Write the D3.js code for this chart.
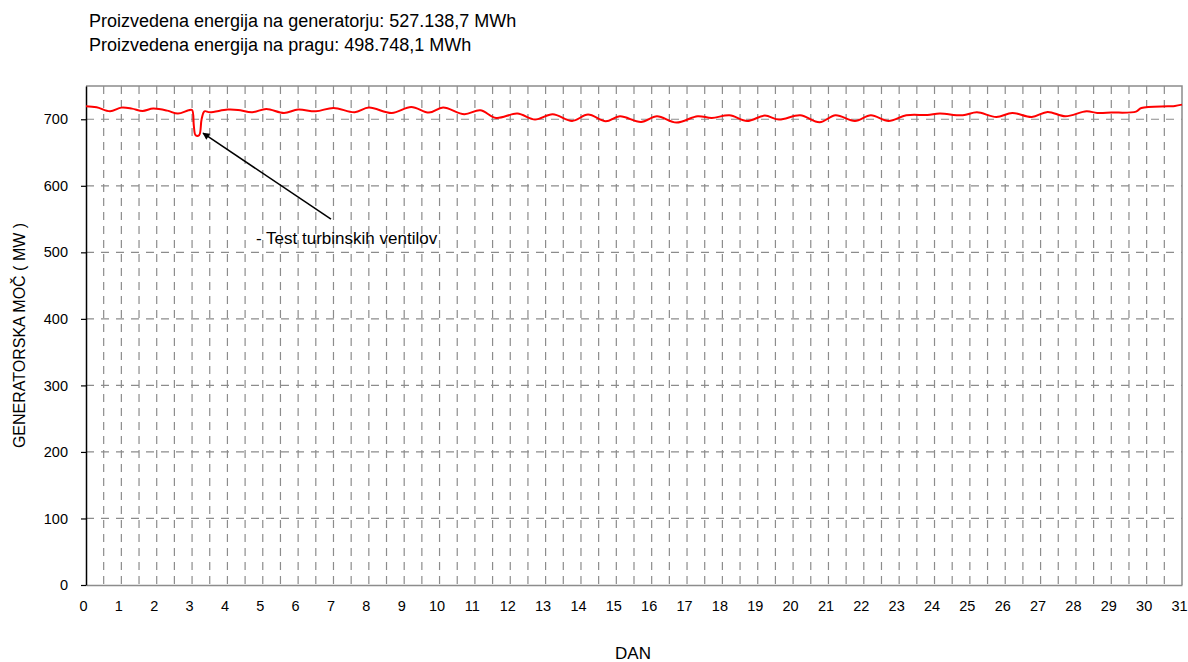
<!DOCTYPE html>
<html lang="sl">
<head>
<meta charset="UTF-8">
<title>Generatorska moc</title>
<script src="https://d3js.org/d3.v7.min.js"></script>
<style>
  body { margin: 0; background: #fff; }
  svg text { font-family: "Liberation Sans", Arial, sans-serif; fill: #000; }
</style>
</head>
<body>
<svg id="chart" width="1188" height="662"></svg>
<script>
// values: day of month and generator power (MW)
var days = [0, 0.3, 0.68, 1, 1.3, 1.6, 1.9, 2.3, 2.6, 2.9, 3.0, 3.05, 3.1, 3.2, 3.27, 3.35, 3.5,
  4, 4.3, 4.7, 5.1, 5.6, 6, 6.5, 7, 7.6, 8, 8.65, 9.2, 9.7, 10.1, 10.7, 11.15, 11.6,
  12.2, 12.7, 13.2, 13.75, 14.2, 14.7, 15.1, 15.7, 16.15, 16.7, 17.3, 17.7, 18.2, 18.7,
  19.2, 19.6, 20.2, 20.75, 21.2, 21.75, 22.2, 22.7, 23.2, 23.8, 24.15, 24.8, 25.2, 25.75,
  26.2, 26.75, 27.2, 27.7, 28.3, 28.6, 29, 29.7, 29.85, 30.6, 30.8, 31];
var power = [719.5, 718, 712, 717.5, 716, 712.5, 716, 713, 708.5, 713.5, 714, 690, 676, 676, 700, 712, 710.5,
  714.5, 714, 710.5, 715.5, 709.5, 714.5, 712, 717, 710.5, 717.5, 709.5, 718.5, 710, 717.5, 707.5, 713.5, 702,
  708.5, 699.5, 707.5, 697.5, 707, 697, 704.5, 696, 704.5, 695, 704.5, 702, 706, 697.5,
  705.5, 699.5, 706, 695.5, 706, 697.5, 706, 697.5, 706, 706.5, 708.5, 706, 710.5, 703.5,
  709.5, 703.5, 711, 704.5, 712, 709.5, 710, 711.5, 717, 719.5, 720, 722];

var dayTicks = d3.range(0, 32);
var powerTicks = [0, 100, 200, 300, 400, 500, 600, 700];
var header = ["Proizvedena energija na generatorju: 527.138,7 MWh",
              "Proizvedena energija na pragu: 498.748,1 MWh"];
var note = "- Test turbinskih ventilov";

var svg = d3.select("#chart");
var margin = {left: 86, top: 86, right: 6, bottom: 77};
var w = 1188 - margin.left - margin.right,
    h = 662 - margin.top - margin.bottom;

var x = d3.scaleLinear().domain([0, 31]).range([0, w]);
var y = d3.scaleLinear().domain([0, 750]).range([h, 0]);

// header lines
svg.selectAll(".hdr").data(header).enter().append("text")
    .attr("class", "hdr")
    .attr("x", 89)
    .attr("y", function(d, i) { return 27 + i * 24; })
    .attr("font-size", 18)
    .text(function(d) { return d; });

var g = svg.append("g").attr("transform", "translate(" + margin.left + "," + margin.top + ")");

// grid
g.append("g").selectAll("line")
    .data(d3.range(1, 62).map(function(i) { return i / 2; }))
    .enter().append("line")
    .attr("x1", function(d) { return x(d); })
    .attr("x2", function(d) { return x(d); })
    .attr("y1", 0).attr("y2", h)
    .attr("stroke", "#8c8c8c")
    .attr("stroke-width", 1.2)
    .attr("stroke-dasharray", "8,6");

g.append("g").selectAll("line")
    .data(powerTicks.slice(1))
    .enter().append("line")
    .attr("x1", 0).attr("x2", w)
    .attr("y1", function(d) { return y(d); })
    .attr("y2", function(d) { return y(d); })
    .attr("stroke", "#8c8c8c")
    .attr("stroke-width", 1.2)
    .attr("stroke-dasharray", "8,7");

// frame top / right
g.append("path")
    .attr("d", "M0,0H" + w + "V" + h)
    .attr("fill", "none")
    .attr("stroke", "#8c8c8c")
    .attr("stroke-width", 1.5);

// axes
var xAxis = g.append("g")
    .attr("transform", "translate(0," + h + ")")
    .call(d3.axisBottom(x).tickValues(dayTicks).tickSize(0).tickPadding(16).tickFormat(d3.format("d")));
xAxis.select(".domain").attr("stroke", "#8c8c8c").attr("stroke-width", 1.5);
xAxis.selectAll("text").attr("font-size", 14.5).attr("font-family", null).attr("dx", -3);

var yAxis = g.append("g")
    .call(d3.axisLeft(y).tickValues(powerTicks).tickSize(5).tickSizeOuter(0).tickPadding(13));
yAxis.select(".domain").attr("stroke", "#000").attr("stroke-width", 1.5);
yAxis.selectAll(".tick line").attr("stroke", "#000").attr("stroke-width", 1.2);
yAxis.selectAll("text").attr("font-size", 14.5).attr("font-family", null);

// series
var line = d3.line()
    .x(function(d) { return x(d[0]); })
    .y(function(d) { return y(d[1]); })
    .curve(d3.curveCatmullRom);

g.append("path")
    .datum(d3.zip(days, power))
    .attr("fill", "none")
    .attr("stroke", "#ff0000")
    .attr("stroke-width", 2)
    .attr("d", line);

// annotation
svg.append("defs").append("marker")
    .attr("id", "arr")
    .attr("viewBox", "0 0 10 10")
    .attr("refX", 9).attr("refY", 5)
    .attr("markerWidth", 10).attr("markerHeight", 7)
    .attr("markerUnits", "userSpaceOnUse")
    .attr("orient", "auto")
    .append("path").attr("d", "M0,0L10,5L0,10Z").attr("fill", "#000");

g.append("line")
    .attr("x1", x(6.93)).attr("y1", y(550))
    .attr("x2", x(3.31)).attr("y2", y(679))
    .attr("stroke", "#000")
    .attr("stroke-width", 1.5)
    .attr("marker-end", "url(#arr)");

g.append("text")
    .attr("x", x(4.81))
    .attr("y", y(512))
    .attr("font-size", 17)
    .text(note);

// axis titles
svg.append("text")
    .attr("transform", "translate(25," + (margin.top + h / 2) + ") rotate(-90)")
    .attr("text-anchor", "middle")
    .attr("font-size", 16)
    .text("GENERATORSKA MOČ ( MW )");

svg.append("text")
    .attr("x", margin.left + w / 2 - 1)
    .attr("y", 659)
    .attr("text-anchor", "middle")
    .attr("font-size", 17)
    .text("DAN");
</script>
</body>
</html>
